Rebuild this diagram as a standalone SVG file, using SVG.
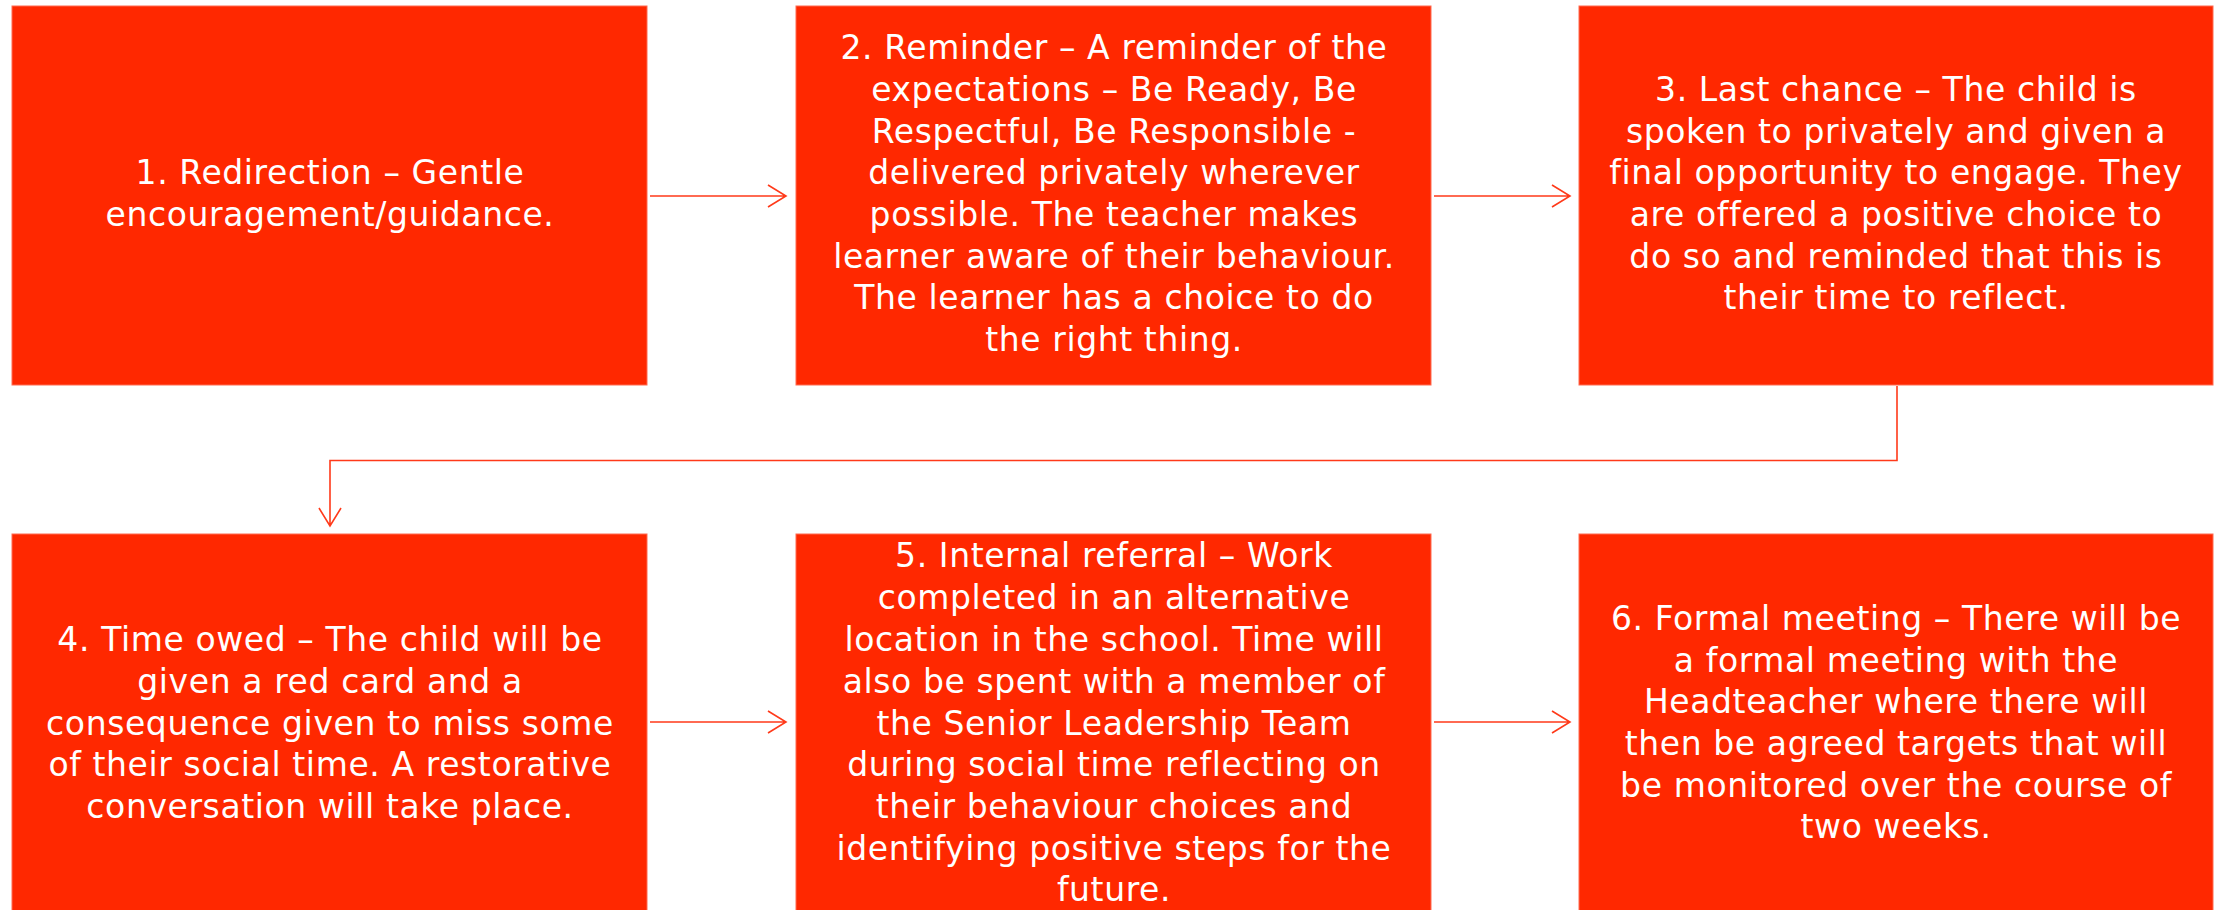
<svg xmlns="http://www.w3.org/2000/svg" width="2221" height="910" viewBox="0 0 2221 910">
<style>
.box{fill:#FF2800;stroke:#FF6A50;stroke-width:1}
.t{font-family:"DejaVu Sans",sans-serif;font-size:33px;letter-spacing:0.6px;fill:#FFFFFF;text-anchor:middle}
.c{fill:none;stroke:#FF3A1A;stroke-width:1.6}
</style>
<rect width="2221" height="910" fill="#FFFFFF"/>
<g id="connectors">
<path class="c" d="M650,196 L786,196 M768,185 L786,196 L768,207"/>
<path class="c" d="M1434,196 L1570,196 M1552,185 L1570,196 L1552,207"/>
<path class="c" d="M1897,386 L1897,460.5 L330,460.5 L330,526 M319,508 L330,526 L341,508"/>
<path class="c" d="M650,722 L786,722 M768,711 L786,722 L768,733"/>
<path class="c" d="M1434,722 L1570,722 M1552,711 L1570,722 L1552,733"/>
</g>
<g id="node1">
<rect class="box" x="12" y="6" width="635" height="379"/>
<text class="t"><tspan x="330" y="184">1. Redirection – Gentle</tspan><tspan x="330" y="226">encouragement/guidance.</tspan></text>
</g>
<g id="node2">
<rect class="box" x="796" y="6" width="635" height="379"/>
<text class="t"><tspan x="1114" y="59">2. Reminder – A reminder of the</tspan><tspan x="1114" y="101">expectations – Be Ready, Be</tspan><tspan x="1114" y="143">Respectful, Be Responsible -</tspan><tspan x="1114" y="184">delivered privately wherever</tspan><tspan x="1114" y="226">possible. The teacher makes</tspan><tspan x="1114" y="268">learner aware of their behaviour.</tspan><tspan x="1114" y="309">The learner has a choice to do</tspan><tspan x="1114" y="351">the right thing.</tspan></text>
</g>
<g id="node3">
<rect class="box" x="1579" y="6" width="634" height="379"/>
<text class="t"><tspan x="1896" y="101">3. Last chance – The child is</tspan><tspan x="1896" y="143">spoken to privately and given a</tspan><tspan x="1896" y="184">final opportunity to engage. They</tspan><tspan x="1896" y="226">are offered a positive choice to</tspan><tspan x="1896" y="268">do so and reminded that this is</tspan><tspan x="1896" y="309">their time to reflect.</tspan></text>
</g>
<g id="node4">
<rect class="box" x="12" y="534" width="635" height="380"/>
<text class="t"><tspan x="330" y="651">4. Time owed – The child will be</tspan><tspan x="330" y="693">given a red card and a</tspan><tspan x="330" y="735">consequence given to miss some</tspan><tspan x="330" y="776">of their social time. A restorative</tspan><tspan x="330" y="818">conversation will take place.</tspan></text>
</g>
<g id="node5">
<rect class="box" x="796" y="534" width="635" height="380"/>
<text class="t"><tspan x="1114" y="567">5. Internal referral – Work</tspan><tspan x="1114" y="609">completed in an alternative</tspan><tspan x="1114" y="651">location in the school. Time will</tspan><tspan x="1114" y="693">also be spent with a member of</tspan><tspan x="1114" y="735">the Senior Leadership Team</tspan><tspan x="1114" y="776">during social time reflecting on</tspan><tspan x="1114" y="818">their behaviour choices and</tspan><tspan x="1114" y="860">identifying positive steps for the</tspan><tspan x="1114" y="901">future.</tspan></text>
</g>
<g id="node6">
<rect class="box" x="1579" y="534" width="634" height="380"/>
<text class="t"><tspan x="1896" y="630">6. Formal meeting – There will be</tspan><tspan x="1896" y="672">a formal meeting with the</tspan><tspan x="1896" y="713">Headteacher where there will</tspan><tspan x="1896" y="755">then be agreed targets that will</tspan><tspan x="1896" y="797">be monitored over the course of</tspan><tspan x="1896" y="838">two weeks.</tspan></text>
</g>
</svg>
